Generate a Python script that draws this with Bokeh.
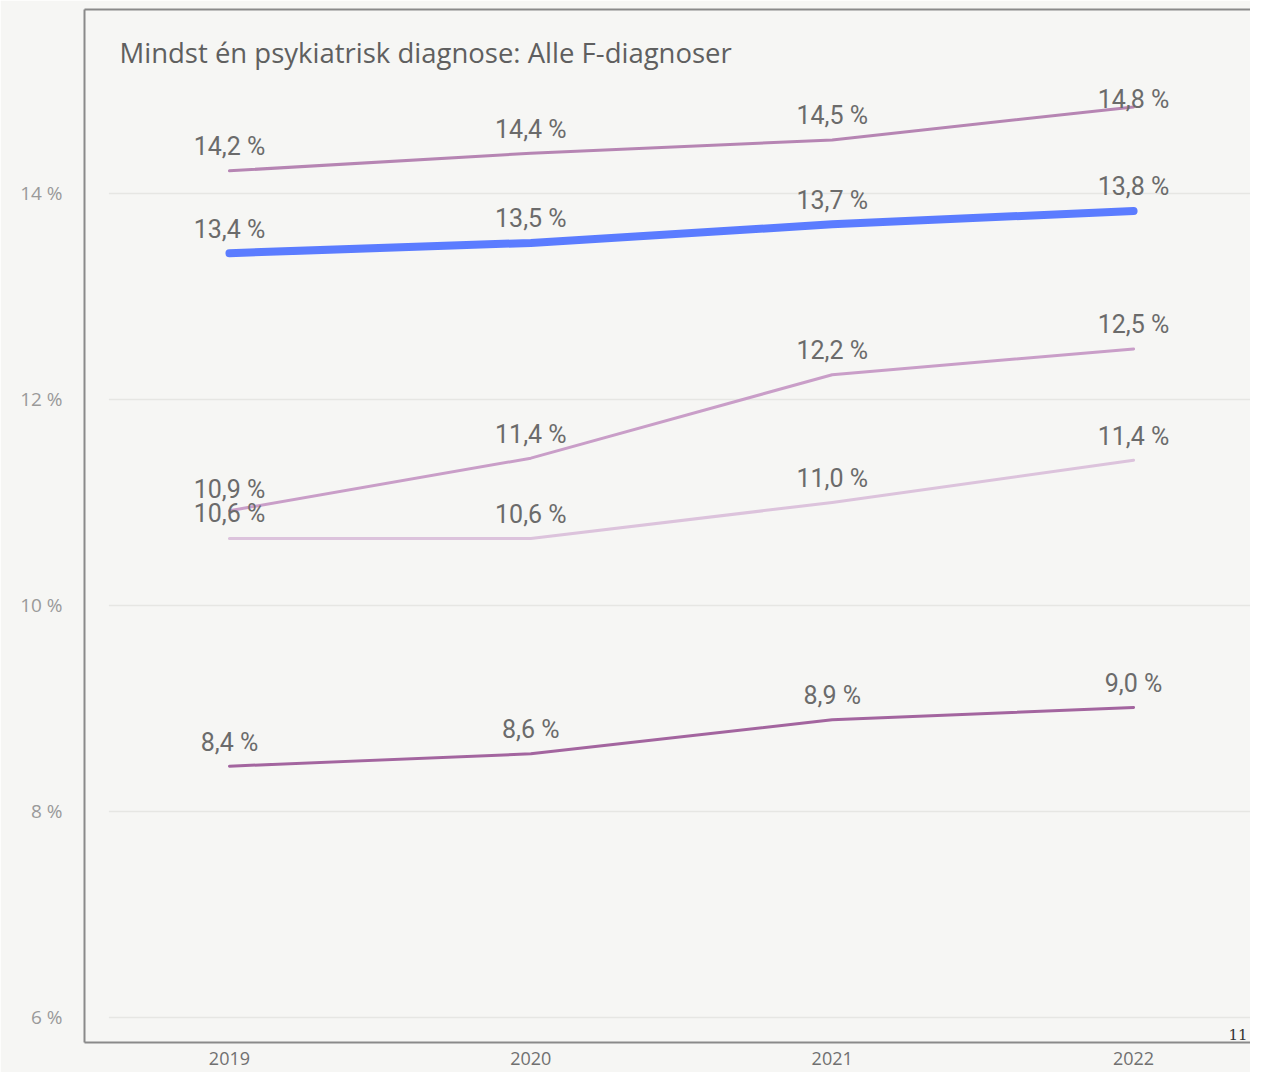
from bokeh.plotting import figure
from bokeh.models import ColumnDataSource, FixedTicker, LinearAxis, Label, LabelSet, Range1d
from bokeh.core.properties import value
from bokeh.embed import file_html
from bokeh.resources import INLINE

# ---- data ----
years = [2019, 2020, 2021, 2022]
title_text = "Mindst én psykiatrisk diagnose: Alle F-diagnoser"

series_a = [14.22, 14.39, 14.52, 14.84]   # top mauve
series_b = [13.42, 13.52, 13.70, 13.83]   # highlighted blue
series_c = [10.92, 11.43, 12.24, 12.49]
series_d = [10.65, 10.65, 11.00, 11.41]
series_e = [8.44, 8.56, 8.89, 9.01]

labels_a = ["14,2 %", "14,4 %", "14,5 %", "14,8 %"]
labels_b = ["13,4 %", "13,5 %", "13,7 %", "13,8 %"]
labels_c = ["10,9 %", "11,4 %", "12,2 %", "12,5 %"]
labels_d = ["10,6 %", "10,6 %", "11,0 %", "11,4 %"]
labels_e = ["8,4 %", "8,6 %", "8,9 %", "9,0 %"]

y_ticks = [6, 8, 10, 12, 14]
y_tick_labels = ["6 %", "8 %", "10 %", "12 %", "14 %"]
page_number = "11"

# ---- style ----
BG = "#f6f6f4"
LABEL_FONT = "Roboto"
UI_FONT = "Open Sans"

series = [
    (series_a, labels_a, "#b685b3", 3, [24, 24, 24, 7]),
    (series_b, labels_b, "#5b7cff", 8, [24, 24, 24, 24]),
    (series_c, labels_c, "#c99ec8", 3, [21, 24, 24, 24]),
    (series_d, labels_d, "#dcc3dc", 3, [25, 24, 24, 24]),
    (series_e, labels_e, "#a3659f", 3, [24, 24, 24, 24]),
]

x_pad = 0.4
x_start, x_end = 2018.519, 2022.388
y_start, y_end = 5.757, 15.786

p = figure(width=1250, height=1072, output_backend="svg", toolbar_location=None,
           x_range=Range1d(x_start, x_end), y_range=Range1d(y_start, y_end),
           background_fill_color=BG, border_fill_color=BG,
           min_border_left=84, min_border_right=0, min_border_top=9, min_border_bottom=30)
p.outline_line_color = None
p.xgrid.visible = False
p.ygrid.visible = False

# axes
p.yaxis.ticker = FixedTicker(ticks=y_ticks)
p.yaxis.major_label_overrides = {t: l for t, l in zip(y_ticks, y_tick_labels)}
p.yaxis.axis_line_color = "#8a8a8a"
p.yaxis.axis_line_width = 2
p.yaxis.major_tick_line_color = None
p.yaxis.minor_tick_line_color = None
p.yaxis.major_label_standoff = 16
p.yaxis.major_label_text_font = UI_FONT
p.yaxis.major_label_text_font_size = "19px"
p.yaxis.major_label_text_color = "#9a9a9a"

p.xaxis.ticker = FixedTicker(ticks=years)
p.xaxis.axis_line_color = "#8a8a8a"
p.xaxis.axis_line_width = 2
p.xaxis.major_tick_line_color = None
p.xaxis.minor_tick_line_color = None
p.xaxis.major_label_standoff = 3
p.xaxis.major_label_text_font = UI_FONT
p.xaxis.major_label_text_font_size = "18px"
p.xaxis.major_label_text_color = "#707070"

top_axis = LinearAxis(ticker=FixedTicker(ticks=[]), axis_line_color="#8a8a8a", axis_line_width=2,
                      major_tick_line_color=None, minor_tick_line_color=None,
                      major_label_text_font_size="0px", major_label_standoff=0)
p.add_layout(top_axis, "above")

# gridlines
p.segment(x0=[years[0] - x_pad] * len(y_ticks), x1=[years[-1] + x_pad] * len(y_ticks),
          y0=y_ticks, y1=y_ticks, line_color="#e6e6e3", line_width=1.5)

# series
for vals, labs, color, width, offs in series:
    p.line(years, vals, line_color=color, line_width=width, line_cap="round", line_join="round")
    src = ColumnDataSource(dict(x=years, y=vals, t=labs, o=offs))
    p.add_layout(LabelSet(x="x", y="y", text="t", y_offset="o", source=src,
                          text_align="center", text_baseline="middle",
                          text_font=value(LABEL_FONT), text_font_size=value("25px"),
                          text_color=value("#6b6b6b")))

# title inside box
p.add_layout(Label(x=x_start, y=y_end, x_offset=35, y_offset=-43, text=title_text,
                   text_align="left", text_baseline="middle", text_font=UI_FONT,
                   text_font_size="27.5px", text_color="#5f5f5f"))
p.add_layout(Label(x=x_end, y=y_start, x_offset=-3, y_offset=3, text=page_number,
                   text_align="right", text_baseline="bottom", text_font="DejaVu Serif",
                   text_font_size="15px", text_color="#333333"))

html = file_html(p, INLINE)
html = html.replace("<body>", '<body style="background-color: %s;">' % BG, 1)
open("out.html", "w").write(html)
